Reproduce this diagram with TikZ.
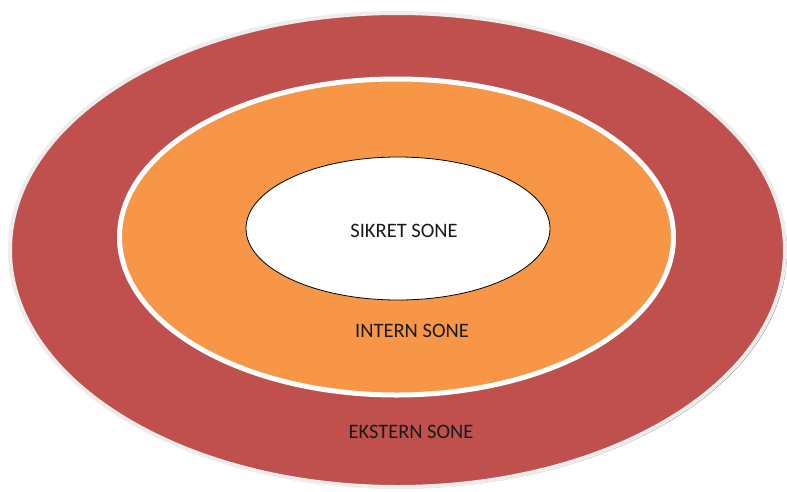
\documentclass[tikz,border=0pt]{standalone}
\usepackage{fontspec}
\setmainfont{Carlito}
\definecolor{zonered}{HTML}{C0504D}
\definecolor{zoneorange}{HTML}{F79646}
\definecolor{rimgrey}{HTML}{EDEDED}
\definecolor{dropgrey}{HTML}{9A8A8A}
\definecolor{dropbrown}{HTML}{A0521E}
\definecolor{labelink}{HTML}{1A1A1A}
\begin{document}
\begin{tikzpicture}[x=1pt,y=-1pt,
  zonelabel/.style={font=\fontsize{20.5}{24}\selectfont, text=labelink, inner sep=0pt}]
  \useasboundingbox (0,0) rectangle (787,491);
  \fill[white] (0,0) rectangle (787,491);
  % outer zone: soft drop shadow, red fill, pale rim
  \fill[dropgrey] (399.5,251.5) ellipse [x radius=387.5, y radius=237];
  \filldraw[fill=zonered, draw=rimgrey, line width=4] (397.5,250) ellipse [x radius=387.5, y radius=237];
  % middle zone: brown drop shadow, orange fill, white rim
  \fill[dropbrown] (398,239) ellipse [x radius=277, y radius=158];
  \filldraw[fill=zoneorange, draw=white, line width=5] (396.5,237) ellipse [x radius=277, y radius=158];
  % inner zone
  \filldraw[fill=white, draw=black, line width=0.8] (398,228.5) ellipse [x radius=152, y radius=71.5];
  % zone names
  \node[zonelabel] (sikret) at (404,231) {SIKRET SONE};
  \node[zonelabel] (intern) at (412,331) {INTERN SONE};
  \node[zonelabel] (ekstern) at (411,432) {EKSTERN SONE};
\end{tikzpicture}
\end{document}
